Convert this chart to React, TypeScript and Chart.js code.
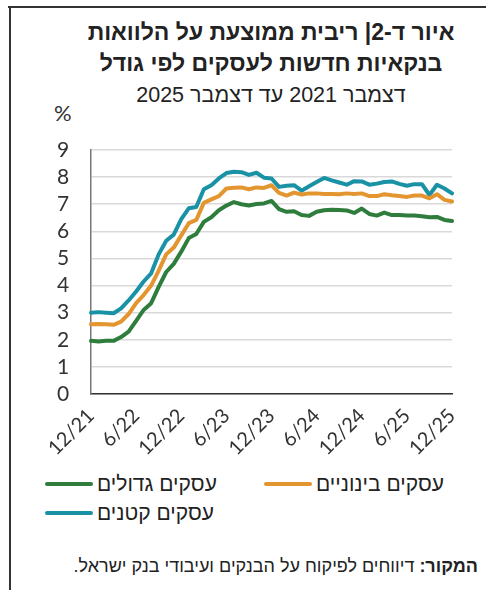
import React, { useEffect, useRef } from 'react';
import { Chart, registerables } from 'chart.js';

Chart.register(...registerables);

const months = [
  '12/21', '1/22', '2/22', '3/22', '4/22', '5/22', '6/22', '7/22', '8/22', '9/22', '10/22', '11/22',
  '12/22', '1/23', '2/23', '3/23', '4/23', '5/23', '6/23', '7/23', '8/23', '9/23', '10/23', '11/23',
  '12/23', '1/24', '2/24', '3/24', '4/24', '5/24', '6/24', '7/24', '8/24', '9/24', '10/24', '11/24',
  '12/24', '1/25', '2/25', '3/25', '4/25', '5/25', '6/25', '7/25', '8/25', '9/25', '10/25', '11/25',
  '12/25',
];

const shownTicks = ['12/21', '6/22', '12/22', '6/23', '12/23', '6/24', '12/24', '6/25', '12/25'];

const large = [
  1.96, 1.94, 1.96, 1.96, 2.1, 2.3, 2.7, 3.1, 3.35, 3.95, 4.5, 4.8,
  5.25, 5.75, 5.9, 6.35, 6.52, 6.78, 6.95, 7.08, 7.0, 6.95, 7.01, 7.03,
  7.12, 6.82, 6.72, 6.74, 6.6, 6.57, 6.72, 6.78, 6.8, 6.79, 6.77, 6.68,
  6.84, 6.64, 6.58, 6.69, 6.6, 6.6, 6.58, 6.58, 6.56, 6.52, 6.53, 6.42,
  6.38,
];

const medium = [
  2.57, 2.58, 2.57, 2.55, 2.67, 2.95, 3.35, 3.65, 4.0, 4.55, 5.15, 5.4,
  5.85, 6.3, 6.42, 7.05, 7.18, 7.3, 7.58, 7.61, 7.62, 7.55, 7.62, 7.6,
  7.7, 7.42, 7.32, 7.43, 7.36, 7.4, 7.4, 7.38, 7.38, 7.37, 7.4, 7.38,
  7.4, 7.3, 7.3, 7.37, 7.33, 7.3, 7.27, 7.32, 7.32, 7.22, 7.37, 7.16,
  7.1,
];

const small = [
  3.0, 3.02, 3.0, 2.98, 3.16, 3.45, 3.78, 4.15, 4.45, 5.15, 5.65, 5.88,
  6.45, 6.85, 6.9, 7.55, 7.7, 7.95, 8.15, 8.2, 8.18, 8.08, 8.16, 7.98,
  7.95, 7.64, 7.68, 7.7, 7.5, 7.66, 7.82, 7.97, 7.88, 7.8, 7.72, 7.85,
  7.84, 7.72, 7.76, 7.82, 7.84, 7.75, 7.68, 7.74, 7.74, 7.34, 7.72, 7.58,
  7.4,
];

const seriesNames = ['עסקים גדולים', 'עסקים בינוניים', 'עסקים קטנים'];
const seriesColors = ['#2e7d3c', '#e39530', '#1a92a6'];

const HEB = '"Liberation Sans", "DejaVu Sans", Arial, sans-serif';
const NUM = 'Lato, "Liberation Sans", sans-serif';

export default function App() {
  const ref = useRef<HTMLCanvasElement | null>(null);

  useEffect(() => {
    if (!ref.current) return;
    const data = [large, medium, small];
    const chart = new Chart(ref.current, {
      type: 'line',
      data: {
        labels: months,
        datasets: data.map((d, i) => ({
          label: seriesNames[i],
          data: d,
          borderColor: seriesColors[i],
          backgroundColor: seriesColors[i],
          borderWidth: 4,
          pointRadius: 0,
          tension: 0,
          borderCapStyle: 'round' as const,
          borderJoinStyle: 'round' as const,
        })),
      },
      options: {
        animation: false,
        responsive: false,
        devicePixelRatio: 1,
        layout: { padding: { top: 20, right: 34, left: 57, bottom: 0 } },
        plugins: { legend: { display: false }, title: { display: false }, tooltip: { enabled: false } },
        scales: {
          x: {
            type: 'category',
            offset: false,
            grid: { display: false, drawTicks: false },
            border: { color: '#333', width: 1.5 },
            ticks: {
              autoSkip: false,
              minRotation: 45,
              maxRotation: 45,
              padding: 10,
              color: '#333',
              font: { family: NUM, size: 20 },
              callback: (_v: any, idx: number) => (shownTicks.includes(months[idx]) ? months[idx] : ''),
            },
            afterFit: (s: any) => {
              s.height = 76;
            },
          },
          y: {
            min: 0,
            max: 9,
            grid: { color: '#d9d9d9', lineWidth: 1.5, drawTicks: false },
            border: { color: '#777', width: 1.5 },
            ticks: {
              stepSize: 1,
              autoSkip: false,
              padding: 0,
              crossAlign: 'far',
              color: '#333',
              font: { family: NUM, size: 21 },
            },
            afterFit: (s: any) => {
              s.width = 34;
            },
          },
        },
      },
    });
    return () => chart.destroy();
  }, []);

  const legendItem = (i: number, left: number, top: number) => (
    <div style={{ position: 'absolute', left, top, height: 24, display: 'flex', alignItems: 'center' }}>
      <div style={{ width: 48, height: 4, borderRadius: 2, background: seriesColors[i], marginRight: 4 }} />
      <div dir="rtl" style={{ fontFamily: HEB, fontSize: 21, color: '#222', whiteSpace: 'nowrap' }}>
        {seriesNames[i]}
      </div>
    </div>
  );

  return (
    <div style={{ position: 'absolute', left: 0, top: 0, width: 486, height: 590, background: '#fff', overflow: 'hidden' }}>
      <div style={{ position: 'absolute', left: 8, top: 6, width: 478, height: 2, background: '#333' }} />
      <div style={{ position: 'absolute', left: 9, top: 6, width: 2, height: 584, background: '#333' }} />
      <div
        dir="rtl"
        style={{
          position: 'absolute', left: 41, top: 17, width: 460, textAlign: 'center',
          fontFamily: HEB, fontWeight: 'bold', fontSize: 23, lineHeight: '31px', color: '#222',
        }}
      >
        <div>איור ד-2| ריבית ממוצעת על הלוואות</div>
        <div>בנקאיות חדשות לעסקים לפי גודל</div>
      </div>
      <div
        dir="rtl"
        style={{
          position: 'absolute', left: 41, top: 82, width: 460, textAlign: 'center',
          fontFamily: HEB, fontSize: 21.5, color: '#222', lineHeight: '26px',
        }}
      >
        דצמבר 2021 עד דצמבר 2025
      </div>
      <div style={{ position: 'absolute', left: 54, top: 99, fontFamily: NUM, fontSize: 22, color: '#333' }}>%</div>
      <canvas ref={ref} width={486} height={340} style={{ position: 'absolute', left: 0, top: 130, width: 486, height: 340 }} />
      {legendItem(0, 45, 472)}
      {legendItem(1, 264, 472)}
      {legendItem(2, 45, 501)}
      <div
        dir="rtl"
        style={{
          position: 'absolute', right: 8, top: 556, fontFamily: HEB, fontSize: 18, color: '#222', whiteSpace: 'nowrap',
        }}
      >
        <b>המקור:</b> דיווחים לפיקוח על הבנקים ועיבודי בנק ישראל.
      </div>
    </div>
  );
}
